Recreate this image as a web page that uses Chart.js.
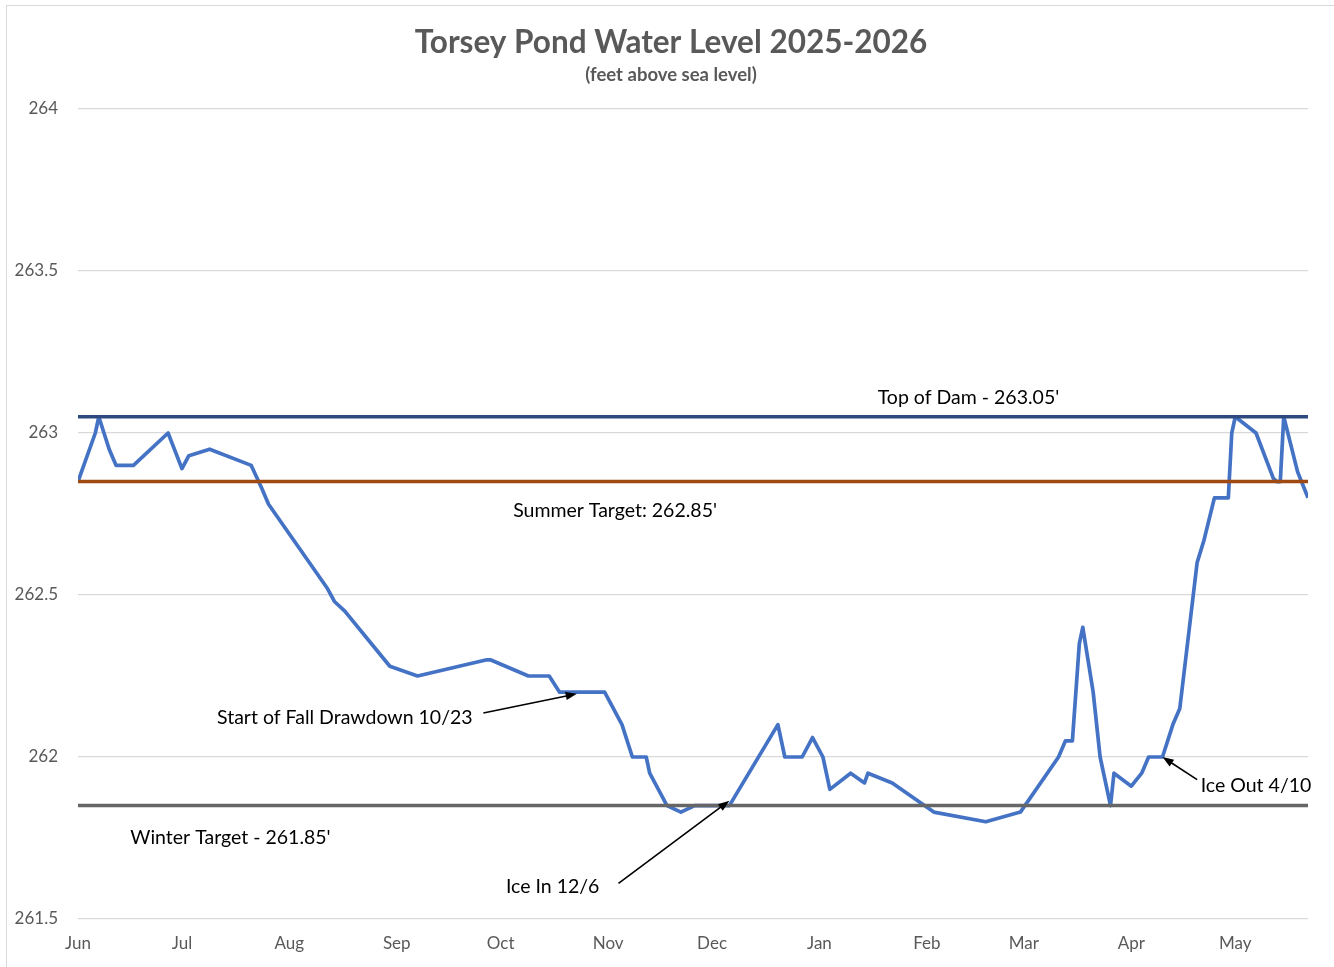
<!DOCTYPE html>
<html>
<head>
<meta charset="utf-8">
<title>Torsey Pond Water Level 2025-2026</title>
<script src="https://cdn.jsdelivr.net/npm/chart.js@4.4.1/dist/chart.umd.min.js"></script>
<style>
  html, body { margin: 0; padding: 0; background: #fff; overflow: hidden; }
  #wrap { position: absolute; left: 0; top: 0; width: 1334px; height: 967px; }
  #frame { position: absolute; left: 6px; top: 5px; width: 1340px; height: 980px; border: 1px solid #d9d9d9; pointer-events: none; }
</style>
</head>
<body>
<div id="wrap"><canvas id="levelChart"></canvas></div>
<div id="frame"></div>
<script>
// readings (date, feet above sea level)
const readingDates = [
  '2025-06-01', '2025-06-06', '2025-06-07', '2025-06-10', '2025-06-12', '2025-06-17', '2025-06-27',
  '2025-07-01', '2025-07-03', '2025-07-09', '2025-07-21', '2025-07-24', '2025-07-26',
  '2025-08-12', '2025-08-14', '2025-08-17', '2025-08-30',
  '2025-09-07', '2025-09-27', '2025-09-28',
  '2025-10-09', '2025-10-15', '2025-10-18', '2025-10-31',
  '2025-11-05', '2025-11-08', '2025-11-12', '2025-11-13', '2025-11-18', '2025-11-22', '2025-11-26',
  '2025-12-06', '2025-12-20', '2025-12-22', '2025-12-27', '2025-12-30',
  '2026-01-02', '2026-01-04', '2026-01-10', '2026-01-14', '2026-01-15', '2026-01-22',
  '2026-02-03', '2026-02-18', '2026-02-28',
  '2026-03-11', '2026-03-13', '2026-03-15', '2026-03-17', '2026-03-18', '2026-03-21', '2026-03-23', '2026-03-26', '2026-03-27',
  '2026-04-01', '2026-04-04', '2026-04-06', '2026-04-10', '2026-04-13', '2026-04-15', '2026-04-20', '2026-04-22', '2026-04-25', '2026-04-29', '2026-04-30',
  '2026-05-01', '2026-05-07', '2026-05-12', '2026-05-13', '2026-05-14', '2026-05-15', '2026-05-19', '2026-05-22'
];
const waterLevels = [
  262.85, 263.00, 263.05, 262.95, 262.90, 262.90, 263.00,
  262.89, 262.93, 262.95, 262.90, 262.83, 262.78,
  262.52, 262.48, 262.45, 262.28,
  262.25, 262.30, 262.30,
  262.25, 262.25, 262.20, 262.20,
  262.10, 262.00, 262.00, 261.95, 261.85, 261.83, 261.85,
  261.85, 262.10, 262.00, 262.00, 262.06,
  262.00, 261.90, 261.95, 261.92, 261.95, 261.92,
  261.83, 261.80, 261.83,
  262.00, 262.05, 262.05, 262.35, 262.40, 262.20, 262.00, 261.85, 261.95,
  261.91, 261.95, 262.00, 262.00, 262.10, 262.15, 262.60, 262.67, 262.80, 262.80, 263.00,
  263.05, 263.00, 262.86, 262.85, 262.85, 263.05, 262.88, 262.80
];

// reference levels
const targetNames = ['Top of Dam', 'Summer Target', 'Winter Target'];
const targetLevels = [263.05, 262.85, 261.85];

// x axis
const monthStarts = ['2025-06-01', '2025-07-01', '2025-08-01', '2025-09-01', '2025-10-01', '2025-11-01',
  '2025-12-01', '2026-01-01', '2026-02-01', '2026-03-01', '2026-04-01', '2026-05-01'];
const monthLabels = ['Jun', 'Jul', 'Aug', 'Sep', 'Oct', 'Nov', 'Dec', 'Jan', 'Feb', 'Mar', 'Apr', 'May'];

// callouts: text centred at (date, level)
const noteTexts = ["Top of Dam - 263.05'", "Summer Target: 262.85'", 'Start of Fall Drawdown 10/23',
  "Winter Target - 261.85'", 'Ice In 12/6', 'Ice Out 4/10'];
const noteDates = ['2026-02-13', '2025-11-03', '2025-08-17', '2025-07-15', '2025-10-16', '2026-05-07'];
const noteLevels = [263.11, 262.76, 262.12, 261.75, 261.60, 261.91];

// arrows: [fromDate, fromLevel, toDate, toLevel]
const arrowLines = [
  ['2025-09-26', 262.136, '2025-10-23', 262.195],
  ['2025-11-04', 261.61, '2025-12-06', 261.865],
  ['2026-04-20', 261.93, '2026-04-10', 262.0]
];

const startDay = Date.UTC(2025, 5, 1);
function dayOf(s) {
  const p = s.split('-').map(Number);
  return (Date.UTC(p[0], p[1] - 1, p[2]) - startDay) / 86400000;
}

const firstDay = dayOf(readingDates[0]);
const lastDay = dayOf(readingDates[readingDates.length - 1]);

const levelPoints = readingDates.map((d, i) => ({ x: dayOf(d), y: waterLevels[i] }));
const targetColors = ['#2c4a7e', '#9e4a12', '#666666'];

const targetSets = targetNames.map((name, i) => ({
  label: name,
  data: [{ x: firstDay, y: targetLevels[i] }, { x: lastDay, y: targetLevels[i] }],
  borderColor: targetColors[i],
  borderWidth: 3.5,
  pointRadius: 0,
  borderCapStyle: 'round'
}));

// titles and callouts
const notesPlugin = {
  id: 'notes',
  afterDraw(chart) {
    const ctx = chart.ctx;
    const x = chart.scales.x;
    const y = chart.scales.y;
    ctx.save();
    ctx.textAlign = 'center';
    ctx.textBaseline = 'middle';
    ctx.fillStyle = '#595959';
    ctx.font = 'bold 31.5px Lato';
    ctx.fillText('Torsey Pond Water Level 2025-2026', 671, 43);
    ctx.font = 'bold 18.5px Lato';
    ctx.fillText('(feet above sea level)', 671, 75);

    ctx.fillStyle = '#000';
    ctx.font = '19.5px Lato';
    noteTexts.forEach((t, i) => {
      ctx.fillText(t, x.getPixelForValue(dayOf(noteDates[i])), y.getPixelForValue(noteLevels[i]));
    });

    ctx.strokeStyle = '#000';
    ctx.lineWidth = 1.6;
    arrowLines.forEach(a => {
      const x1 = x.getPixelForValue(dayOf(a[0])), y1 = y.getPixelForValue(a[1]);
      const x2 = x.getPixelForValue(dayOf(a[2])), y2 = y.getPixelForValue(a[3]);
      const ang = Math.atan2(y2 - y1, x2 - x1);
      const head = 12;
      ctx.beginPath();
      ctx.moveTo(x1, y1);
      ctx.lineTo(x2 - Math.cos(ang) * head * 0.8, y2 - Math.sin(ang) * head * 0.8);
      ctx.stroke();
      ctx.beginPath();
      ctx.moveTo(x2, y2);
      ctx.lineTo(x2 - head * Math.cos(ang - 0.35), y2 - head * Math.sin(ang - 0.35));
      ctx.lineTo(x2 - head * Math.cos(ang + 0.35), y2 - head * Math.sin(ang + 0.35));
      ctx.closePath();
      ctx.fill();
    });
    ctx.restore();
  }
};

new Chart(document.getElementById('levelChart'), {
  type: 'line',
  data: {
    datasets: targetSets.concat([{
      label: 'Water Level',
      data: levelPoints,
      borderColor: '#4472c4',
      borderWidth: 3.7,
      pointRadius: 0,
      tension: 0,
      borderJoinStyle: 'round'
    }])
  },
  options: {
    responsive: true,
    maintainAspectRatio: false,
    animation: false,
    layout: { padding: { top: 109, right: 26, bottom: 0, left: 0 } },
    plugins: {
      legend: { display: false },
      tooltip: { enabled: false },
      title: { display: false }
    },
    scales: {
      x: {
        type: 'linear',
        min: firstDay,
        max: lastDay,
        grid: { display: false, drawTicks: false },
        border: { display: false },
        afterBuildTicks: scale => {
          scale.ticks = monthStarts.map(d => ({ value: dayOf(d) }));
        },
        afterFit: scale => { scale.height = 48; },
        ticks: {
          autoSkip: false,
          maxRotation: 0,
          padding: 14,
          color: '#595959',
          font: { family: 'Lato', size: 17 },
          callback: (v, i) => monthLabels[i]
        }
      },
      y: {
        min: 261.5,
        max: 264,
        grid: { color: '#d9d9d9', lineWidth: 1.3, drawTicks: false },
        border: { display: false },
        afterFit: scale => { scale.width = 78; },
        ticks: {
          stepSize: 0.5,
          padding: 20,
          color: '#595959',
          font: { family: 'Lato', size: 17 },
          callback: v => String(v)
        }
      }
    }
  },
  plugins: [notesPlugin]
});
</script>
</body>
</html>
